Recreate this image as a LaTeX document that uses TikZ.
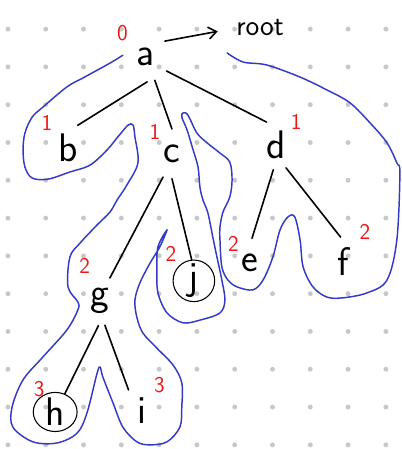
\documentclass[tikz,border=0pt]{standalone}
\usepackage{xcolor}
\definecolor{penblue}{RGB}{52,58,200}
\definecolor{penred}{RGB}{235,25,25}
\definecolor{dotgray}{RGB}{200,200,200}
\usepackage{tikz}
\usetikzlibrary{arrows.meta,positioning,shapes.geometric}
\tikzset{
  vtx/.style={circle, minimum size=1.3cm, inner sep=0pt,
              font=\sffamily\fontsize{30}{30}\selectfont},
  ring/.style={vtx, draw, line width=0.8pt, minimum size=1.1cm},
  num/.style={text=penred, inner sep=0pt,
              font=\sffamily\fontsize{17}{17}\selectfont},
  branch/.style={line width=1.2pt, line cap=round},
  tour/.style={draw=penblue, line width=1.1pt, line cap=round, line join=round},
}

\begin{document}
\begin{tikzpicture}
\fill[white] (0,0) rectangle (10.61,-11.88);
\useasboundingbox (0,0) rectangle (10.61,-11.88);
\foreach \i in {0,...,10}
  \foreach \j in {0,...,11}
    \fill[dotgray] (0.21+\i,-0.77-\j) circle (0.065);

\node[vtx,label={[num,label distance=-0.03cm]139:0}] (a) at (3.86,-1.51) {a};
\node[font=\sffamily\fontsize{22}{22}\selectfont,inner sep=0pt] (root) at (6.88,-0.74) {root};
\node[vtx,label={[num,label distance=-0.04cm]132:1}] (b) at (1.80,-3.92) {b};
\node[vtx,label={[num,label distance=-0.18cm]129:1}] (c) at (4.55,-4.07) {c};
\node[vtx,label={[num,label distance=-0.09cm]47:1}] (d) at (7.30,-3.84) {d};
\node[vtx,label={[num,label distance=-0.25cm]135:2}] (e) at (6.61,-6.96) {e};
\node[vtx,label={[num,label distance=0.07cm]53:2}] (f) at (9.07,-6.93) {f};
\node[vtx,label={[num,label distance=0.11cm]110:2}] (g) at (2.65,-7.96) {g};
\node[ring,label={[num,label distance=0.12cm]132:2}] (j) at (5.13,-7.43) {j};
\node[ring,ellipse,minimum width=1.16cm,minimum height=0.93cm,
      label={[num,label distance=-0.06cm]124:3}] (h) at (1.46,-10.90) {h};
\node[vtx,label={[num,label distance=-0.09cm]57:3}] (i) at (3.76,-10.87) {i};

\draw[branch,-{Straight Barb[length=6pt,width=9pt]},shorten >=14pt] (a.40) -- (root.west);
\draw[branch] (a.-87) -- (b.67);
\draw[branch] (a.-69) -- (c.90);
\draw[branch] (a.-34) -- (d.112);
\draw[branch] (c.-111) -- (g.67);
\draw[branch] (c.-90) -- (j.96);
\draw[branch] (d.-96) -- (e.85);
\draw[branch] (d.-66) -- (f.95);
\draw[branch] (g.-94) -- (h.62);
\draw[branch] (g.-79) -- (i.123);

\draw[tour] plot[smooth,tension=0.55] coordinates {
  (3.25,-1.46) (2.91,-1.67) (2.20,-2.06) (1.77,-2.30) (1.14,-2.83)
  (0.85,-3.10) (0.66,-3.52) (0.61,-3.97) (0.66,-4.42) (0.85,-4.71)
  (1.27,-4.74) (1.85,-4.55) (2.38,-4.37) (2.83,-3.97) (3.12,-3.62)
  (3.39,-3.31) (3.52,-3.31) (3.57,-3.62) (3.65,-4.31) (3.36,-4.89)
  (3.10,-5.29) (2.91,-5.61) (2.57,-5.95) (2.12,-6.43) (1.85,-6.80)
  (1.80,-7.59) (2.06,-7.99) (2.06,-8.20) (1.77,-8.73) (1.14,-9.44)
  (0.61,-10.05) (0.32,-10.77) (0.34,-11.30) (0.87,-11.69) (1.51,-11.72)
  (2.04,-11.46) (2.30,-10.93) (2.57,-9.87) (2.65,-9.71) (2.72,-9.97)
  (2.99,-10.66) (3.25,-11.30) (3.62,-11.69) (3.97,-11.77) (4.42,-11.69)
  (4.76,-11.30) (4.81,-10.77) (4.81,-10.13) (4.58,-9.66) (4.15,-9.21)
  (3.78,-8.81) (3.62,-8.39) (3.57,-7.94) (3.70,-7.49) (3.97,-6.96)
  (4.23,-6.53) (4.42,-6.08) (4.18,-6.53) (4.15,-7.14) (4.18,-7.75)
  (4.42,-8.28) (4.84,-8.54) (5.29,-8.47) (5.82,-8.28) (5.95,-7.94)
  (5.87,-7.41) (5.74,-6.80) (5.63,-6.27) (5.50,-5.63) (5.37,-5.29)
  (5.29,-4.95) (5.24,-4.42) (5.11,-3.97) (4.95,-3.44) (4.81,-3.10)
  (4.84,-2.99) (4.97,-3.04) (5.21,-3.52) (5.48,-3.78) (5.82,-4.05)
  (6.08,-4.29) (6.14,-4.76) (6.08,-5.21) (5.90,-5.61) (5.82,-6.01)
  (5.82,-6.35) (5.87,-7.06) (6.03,-7.41) (6.27,-7.59) (6.69,-7.67)
  (6.96,-7.41) (7.22,-6.80) (7.41,-6.08) (7.62,-5.74) (7.80,-5.74)
  (7.94,-6.35) (8.02,-7.06) (8.28,-7.59) (8.65,-7.86) (9.07,-7.88)
  (9.71,-7.75) (10.24,-7.41) (10.50,-6.35) (10.58,-4.58) (10.50,-4.31)
  (10.24,-3.78) (9.79,-3.25) (9.26,-2.72) (8.65,-2.38) (7.94,-2.04)
  (7.06,-1.72) (6.43,-1.64) (6.01,-1.40)};
\end{tikzpicture}
\end{document}
